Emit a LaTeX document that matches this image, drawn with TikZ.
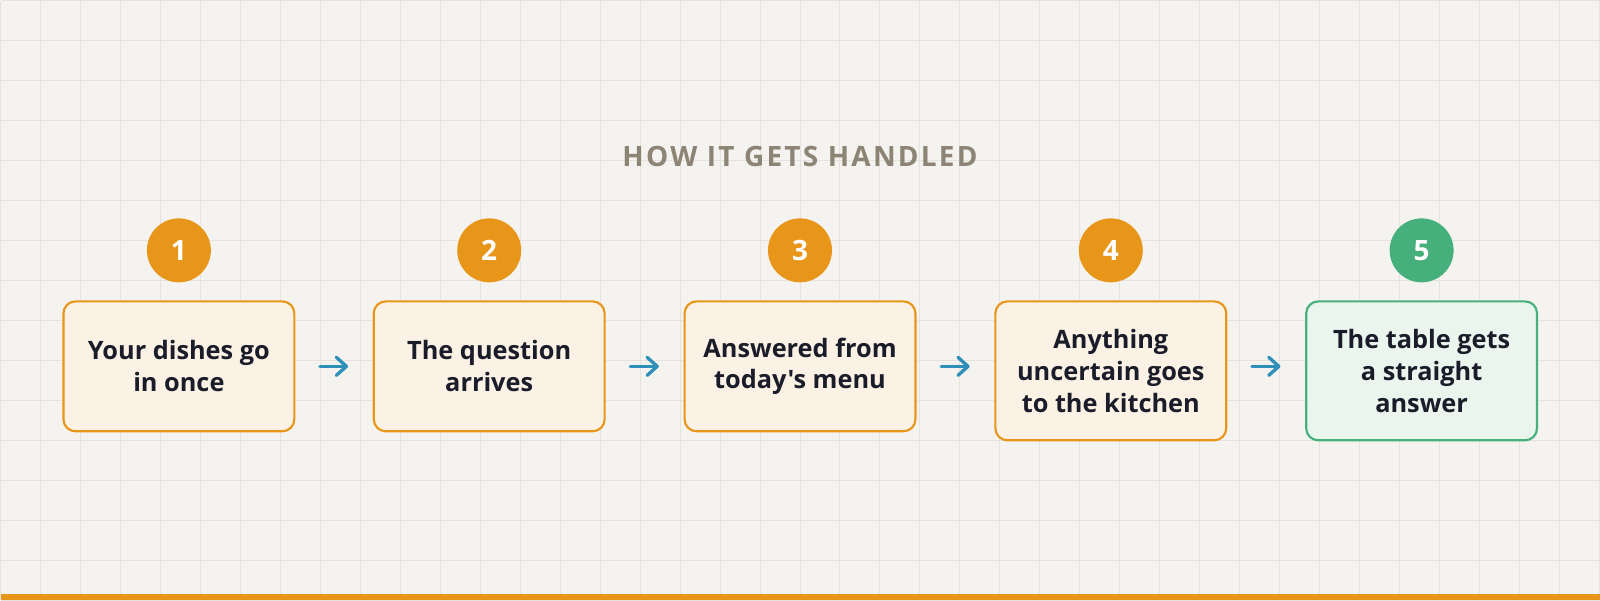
\documentclass[tikz,border=0pt]{standalone}
\usepackage{fontspec}
\setmainfont{Open Sans}[Ligatures=TeXOff]
\newfontfamily\headfont{Open Sans}[LetterSpace=8]
\usetikzlibrary{positioning,arrows.meta}

\definecolor{paper}{HTML}{F5F3EF}
\definecolor{gridline}{HTML}{E6E3DE}
\definecolor{amber}{HTML}{E8961A}
\definecolor{amberfill}{HTML}{FBF2E5}
\definecolor{leaf}{HTML}{46B07C}
\definecolor{leaffill}{HTML}{EAF5EE}
\definecolor{flow}{HTML}{2E90B8}
\definecolor{ink}{HTML}{1A1D29}
\definecolor{stone}{HTML}{8C8576}

\begin{document}
\begin{tikzpicture}[x=0.75pt,y=-0.75pt,
  stepbox/.style={draw=amber,fill=amberfill,line width=1.6pt,rounded corners=9pt,
    minimum width=173.25pt,minimum height=97.5pt,align=center,text=ink,
    font=\fontsize{19}{24}\selectfont\bfseries,anchor=north},
  tallbox/.style={stepbox,minimum height=104.25pt},
  donebox/.style={tallbox,draw=leaf,fill=leaffill},
  badge/.style={circle,fill=amber,minimum size=48pt,inner sep=0pt,text=white,
    font=\fontsize{21}{24}\selectfont\bfseries},
  donebadge/.style={badge,fill=leaf},
  flowarrow/.style={draw=flow,line width=2.5pt,line cap=round,
    -{Straight Barb[length=7.5pt,width=13.5pt,line cap=round,line join=round]},
    shorten <=18.5pt,shorten >=18.5pt}]
% background and grid
\fill[paper] (0,0) rectangle (1600,600);
\foreach \gx in {0,40,...,1600} \draw[gridline,line width=0.75pt] (\gx,0) -- (\gx,600);
\foreach \gy in {0,40,...,600} \draw[gridline,line width=0.75pt] (0,\gy) -- (1600,\gy);
\fill[amber] (0,594) rectangle (1600,600);
\useasboundingbox (0,0) rectangle (1600,600);

\node[text=stone,font=\headfont\fontsize{21}{24}\selectfont\bfseries] (title) at (800,156) {HOW IT GETS HANDLED};

% badges
\node[badge] (n1) at (178.5,250) {1};
\node[badge] (n2) at (489,250) {2};
\node[badge] (n3) at (800,250) {3};
\node[badge] (n4) at (1111,250) {4};
\node[donebadge] (n5) at (1422,250) {5};

% boxes
\node[stepbox] (b1) at (178.5,300) {Your dishes go\\in once};
\node[stepbox] (b2) at (489,300) {The question\\arrives};
\node[stepbox] (b3) at (800,300) {Answered from\\today's menu};
\node[tallbox] (b4) at (1111,300) {Anything\\uncertain goes\\to the kitchen};
\node[donebox] (b5) at (1422,300) {The table gets\\a straight\\answer};

% arrows
\draw[flowarrow] (b1.east) -- (b1.east -| b2.west);
\draw[flowarrow] (b2.east) -- (b2.east -| b3.west);
\draw[flowarrow] (b3.east) -- (b3.east -| b4.west);
\draw[flowarrow] (b3.east -| b4.east) -- (b3.east -| b5.west);
\end{tikzpicture}
\end{document}
